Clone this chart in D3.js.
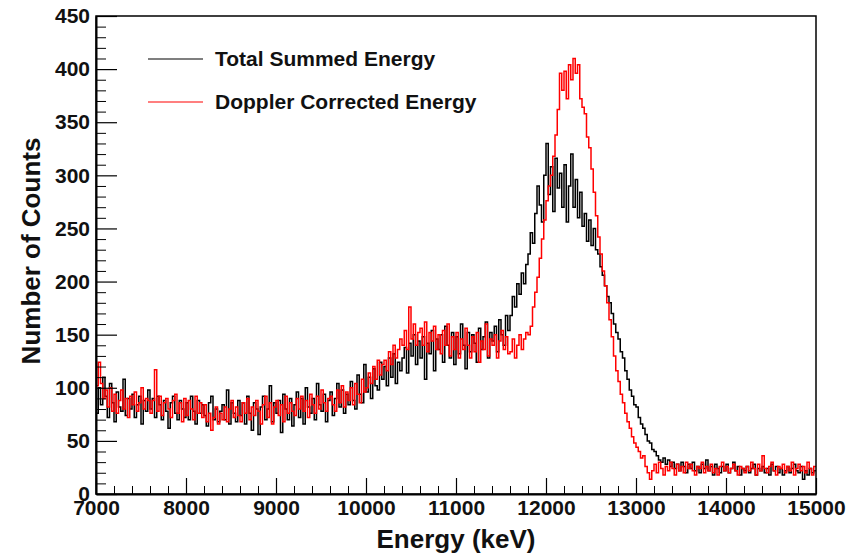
<!DOCTYPE html>
<html>
<head>
<meta charset="utf-8">
<script src="https://cdnjs.cloudflare.com/ajax/libs/d3/7.8.5/d3.min.js"></script>
<style>
  body { margin: 0; background: #fff; }
  text { font-family: "Liberation Sans", Arial, sans-serif; font-weight: bold; }
</style>
</head>
<body>
<div id="svg-container"></div>
<script>
const w = 861;
const h = 554;
const margin = { left: 96, right: 45, top: 16, bottom: 60 };

// histogram binning (keV)
const eMin = 7000;
const eMax = 15000;
const binWidth = 25;

const xTicks = [7000, 8000, 9000, 10000, 11000, 12000, 13000, 14000, 15000];
const yTicks = [0, 50, 100, 150, 200, 250, 300, 350, 400, 450];

const seriesNames = ["Total Summed Energy", "Doppler Corrected Energy"];
const seriesColors = ["#000000", "#ff0000"];

// counts per 25 keV bin, one row per 200 keV
const totalCounts = [
  76, 100, 84, 110, 92, 72, 104, 86,
  68, 96, 82, 78, 108, 74, 90, 80,
  94, 72, 84, 92, 66, 88, 78, 98,
  80, 90, 72, 92, 84, 70, 88, 78,
  62, 86, 92, 76, 70, 88, 80, 72,
  86, 70, 92, 78, 66, 88, 76, 84,
  74, 64, 86, 92, 70, 80, 68, 78,
  84, 70, 98, 66, 86, 76, 68, 88,
  74, 86, 66, 92, 76, 60, 86, 80,
  56, 82, 92, 70, 80, 102, 68, 86,
  76, 88, 58, 94, 80, 70, 90, 64,
  84, 96, 72, 90, 66, 100, 82, 76,
  90, 70, 104, 84, 78, 94, 68, 88,
  96, 74, 90, 104, 82, 98, 76, 94,
  84, 106, 88, 80, 112, 94, 86, 122,
  96, 110, 90, 118, 102, 98, 124, 108,
  120, 102, 128, 110, 132, 104, 124, 116,
  128, 138, 114, 142, 130, 150, 122, 144,
  128, 148, 108, 142, 132, 154, 116, 146,
  136, 150, 124, 158, 140, 128, 152, 122,
  148, 132, 160, 140, 118, 152, 134, 150,
  142, 124, 156, 136, 148, 162, 128, 152,
  144, 158, 134, 164, 150, 140, 168, 154,
  168, 186, 176, 198, 188, 208, 198, 216,
  226, 246, 236, 264, 290, 272, 256, 300,
  330, 282, 308, 266, 316, 288, 302, 270,
  310, 256, 290, 320, 270, 296, 260, 284,
  252, 264, 238, 258, 234, 250, 230, 226,
  214, 206, 196, 186, 180, 170, 160, 152,
  146, 134, 128, 116, 108, 98, 92, 84,
  82, 72, 66, 62, 56, 50, 48, 42,
  40, 36, 32, 30, 34, 28, 32, 26,
  30, 24, 28, 22, 30, 26, 20, 28,
  24, 30, 22, 26, 20, 28, 24, 32,
  22, 26, 18, 28, 24, 20, 26, 22,
  28, 20, 24, 30, 22, 26, 18, 24,
  22, 26, 20, 24, 28, 18, 24, 22,
  26, 20, 24, 18, 28, 22, 26, 20,
  24, 18, 22, 26, 20, 24, 28, 22,
  20, 26, 14, 22, 18, 24, 20, 22
];

const dopplerCounts = [
  102, 124, 104, 90, 98, 82, 100, 78,
  94, 76, 88, 98, 80, 90, 72, 92,
  84, 96, 78, 86, 100, 80, 90, 88,
  76, 88, 117, 78, 92, 74, 86, 90,
  80, 72, 88, 94, 76, 86, 68, 90,
  74, 88, 80, 70, 92, 76, 86, 72,
  84, 68, 76, 60, 72, 82, 66, 76,
  70, 82, 68, 80, 88, 72, 82, 74,
  68, 86, 76, 90, 70, 82, 74, 88,
  78, 66, 84, 92, 72, 86, 66, 82,
  88, 74, 84, 68, 92, 76, 86, 78,
  74, 90, 80, 92, 78, 88, 72, 94,
  84, 76, 92, 80, 98, 86, 78, 90,
  92, 84, 78, 98, 86, 102, 82, 96,
  88, 100, 84, 104, 94, 86, 108, 96,
  100, 114, 104, 120, 108, 126, 112, 122,
  126, 116, 134, 122, 140, 128, 136, 146,
  140, 154, 136, 176, 146, 160, 140, 152,
  156, 140, 162, 134, 152, 144, 158, 136,
  150, 132, 154, 140, 160, 130, 148, 136,
  152, 128, 146, 136, 156, 140, 128, 148,
  134, 152, 124, 144, 136, 160, 130, 146,
  140, 150, 128, 144, 154, 136, 148, 132,
  134, 146, 128, 140, 150, 136, 146, 152,
  150, 158, 176, 190, 204, 222, 240, 258,
  276, 290, 300, 318, 338, 362, 396, 380,
  398, 372, 404, 390, 410, 396, 404, 372,
  364, 358, 336, 326, 306, 284, 262, 242,
  226, 210, 196, 180, 164, 148, 130, 116,
  106, 94, 86, 76, 68, 62, 54, 48,
  44, 40, 34, 36, 26, 20, 14, 22,
  28, 20, 30, 24, 18, 26, 22, 30,
  24, 18, 28, 22, 26, 20, 30, 24,
  28, 22, 18, 26, 24, 30, 20, 26,
  22, 28, 20, 24, 18, 26, 30, 22,
  26, 20, 24, 28, 22, 18, 26, 24,
  20, 26, 22, 30, 24, 18, 28, 22,
  36, 24, 20, 26, 30, 22, 18, 26,
  24, 28, 20, 26, 22, 30, 18, 24,
  28, 22, 26, 20, 30, 24, 18, 26
];

const xScale = d3.scaleLinear()
    .domain([eMin, eMax])
    .range([margin.left, w - margin.right]);

const yScale = d3.scaleLinear()
    .domain([0, 450])
    .range([h - margin.bottom, margin.top]);

const svg = d3.select("#svg-container")
    .append("svg")
    .attr("width", w)
    .attr("height", h);

// bin low edges plus a closing point at the upper edge
function toSteps(counts) {
    let pts = counts.map((v, i) => ({ e: eMin + i * binWidth, v: v }));
    pts.push({ e: eMin + counts.length * binWidth, v: counts[counts.length - 1] });
    return pts;
}

const line = d3.line()
    .x(d => xScale(d.e))
    .y(d => yScale(d.v))
    .curve(d3.curveStepAfter);

[totalCounts, dopplerCounts].forEach((counts, i) => {
    svg.append("path")
        .datum(toSteps(counts))
        .attr("d", line)
        .attr("fill", "none")
        .attr("stroke", seriesColors[i])
        .attr("stroke-width", 1.5);
});

// frame
svg.append("rect")
    .attr("x", margin.left)
    .attr("y", margin.top)
    .attr("width", w - margin.left - margin.right)
    .attr("height", h - margin.top - margin.bottom)
    .attr("fill", "none")
    .attr("stroke", "#000")
    .attr("stroke-width", 1.5);

// minor ticks
let xMinor = d3.range(eMin, eMax + 1, 200).filter(v => v % 1000 != 0);
let yMinor = d3.range(0, 451, 10).filter(v => v % 50 != 0);

svg.append("g")
    .attr("transform", "translate(0, " + (h - margin.bottom) + ")")
    .call(d3.axisBottom(xScale).tickValues(xMinor).tickSize(-8).tickFormat(""))
    .call(g => g.select(".domain").remove());

svg.append("g")
    .attr("transform", "translate(" + margin.left + ", 0)")
    .call(d3.axisLeft(yScale).tickValues(yMinor).tickSize(-10).tickFormat(""))
    .call(g => g.select(".domain").remove());

// major ticks and labels
let xAxis = svg.append("g")
    .attr("id", "x-axis")
    .attr("transform", "translate(0, " + (h - margin.bottom) + ")")
    .call(d3.axisBottom(xScale).tickValues(xTicks).tickSize(-16).tickSizeOuter(0).tickPadding(6).tickFormat(d3.format("d")));

let yAxis = svg.append("g")
    .attr("id", "y-axis")
    .attr("transform", "translate(" + margin.left + ", 0)")
    .call(d3.axisLeft(yScale).tickValues(yTicks).tickSize(-21).tickSizeOuter(0).tickPadding(6).tickFormat(d3.format("d")));

[xAxis, yAxis].forEach(g => {
    g.select(".domain").attr("stroke-width", 2);
    g.selectAll(".tick line").attr("stroke-width", 1.2);
    g.selectAll(".tick text")
        .attr("fill", "#111")
        .style("font-size", "21px");
});

// axis titles
svg.append("text")
    .attr("x", (xScale(eMin) + xScale(eMax)) / 2)
    .attr("y", 548)
    .attr("text-anchor", "middle")
    .style("font-size", "26px")
    .attr("fill", "#111")
    .text("Energy (keV)");

svg.append("text")
    .attr("transform", "translate(40, 251) rotate(-90)")
    .attr("text-anchor", "middle")
    .style("font-size", "26px")
    .attr("fill", "#111")
    .text("Number of Counts");

// legend
const legend = svg.append("g");
seriesNames.forEach((name, i) => {
    let ly = 59 + i * 43;
    legend.append("line")
        .attr("x1", 148).attr("x2", 203)
        .attr("y1", ly).attr("y2", ly)
        .attr("stroke", seriesColors[i])
        .attr("stroke-width", 1.2);
    legend.append("text")
        .attr("x", 215)
        .attr("y", ly + 7)
        .style("font-size", "21px")
        .attr("fill", "#111")
        .text(name);
});
</script>
</body>
</html>
